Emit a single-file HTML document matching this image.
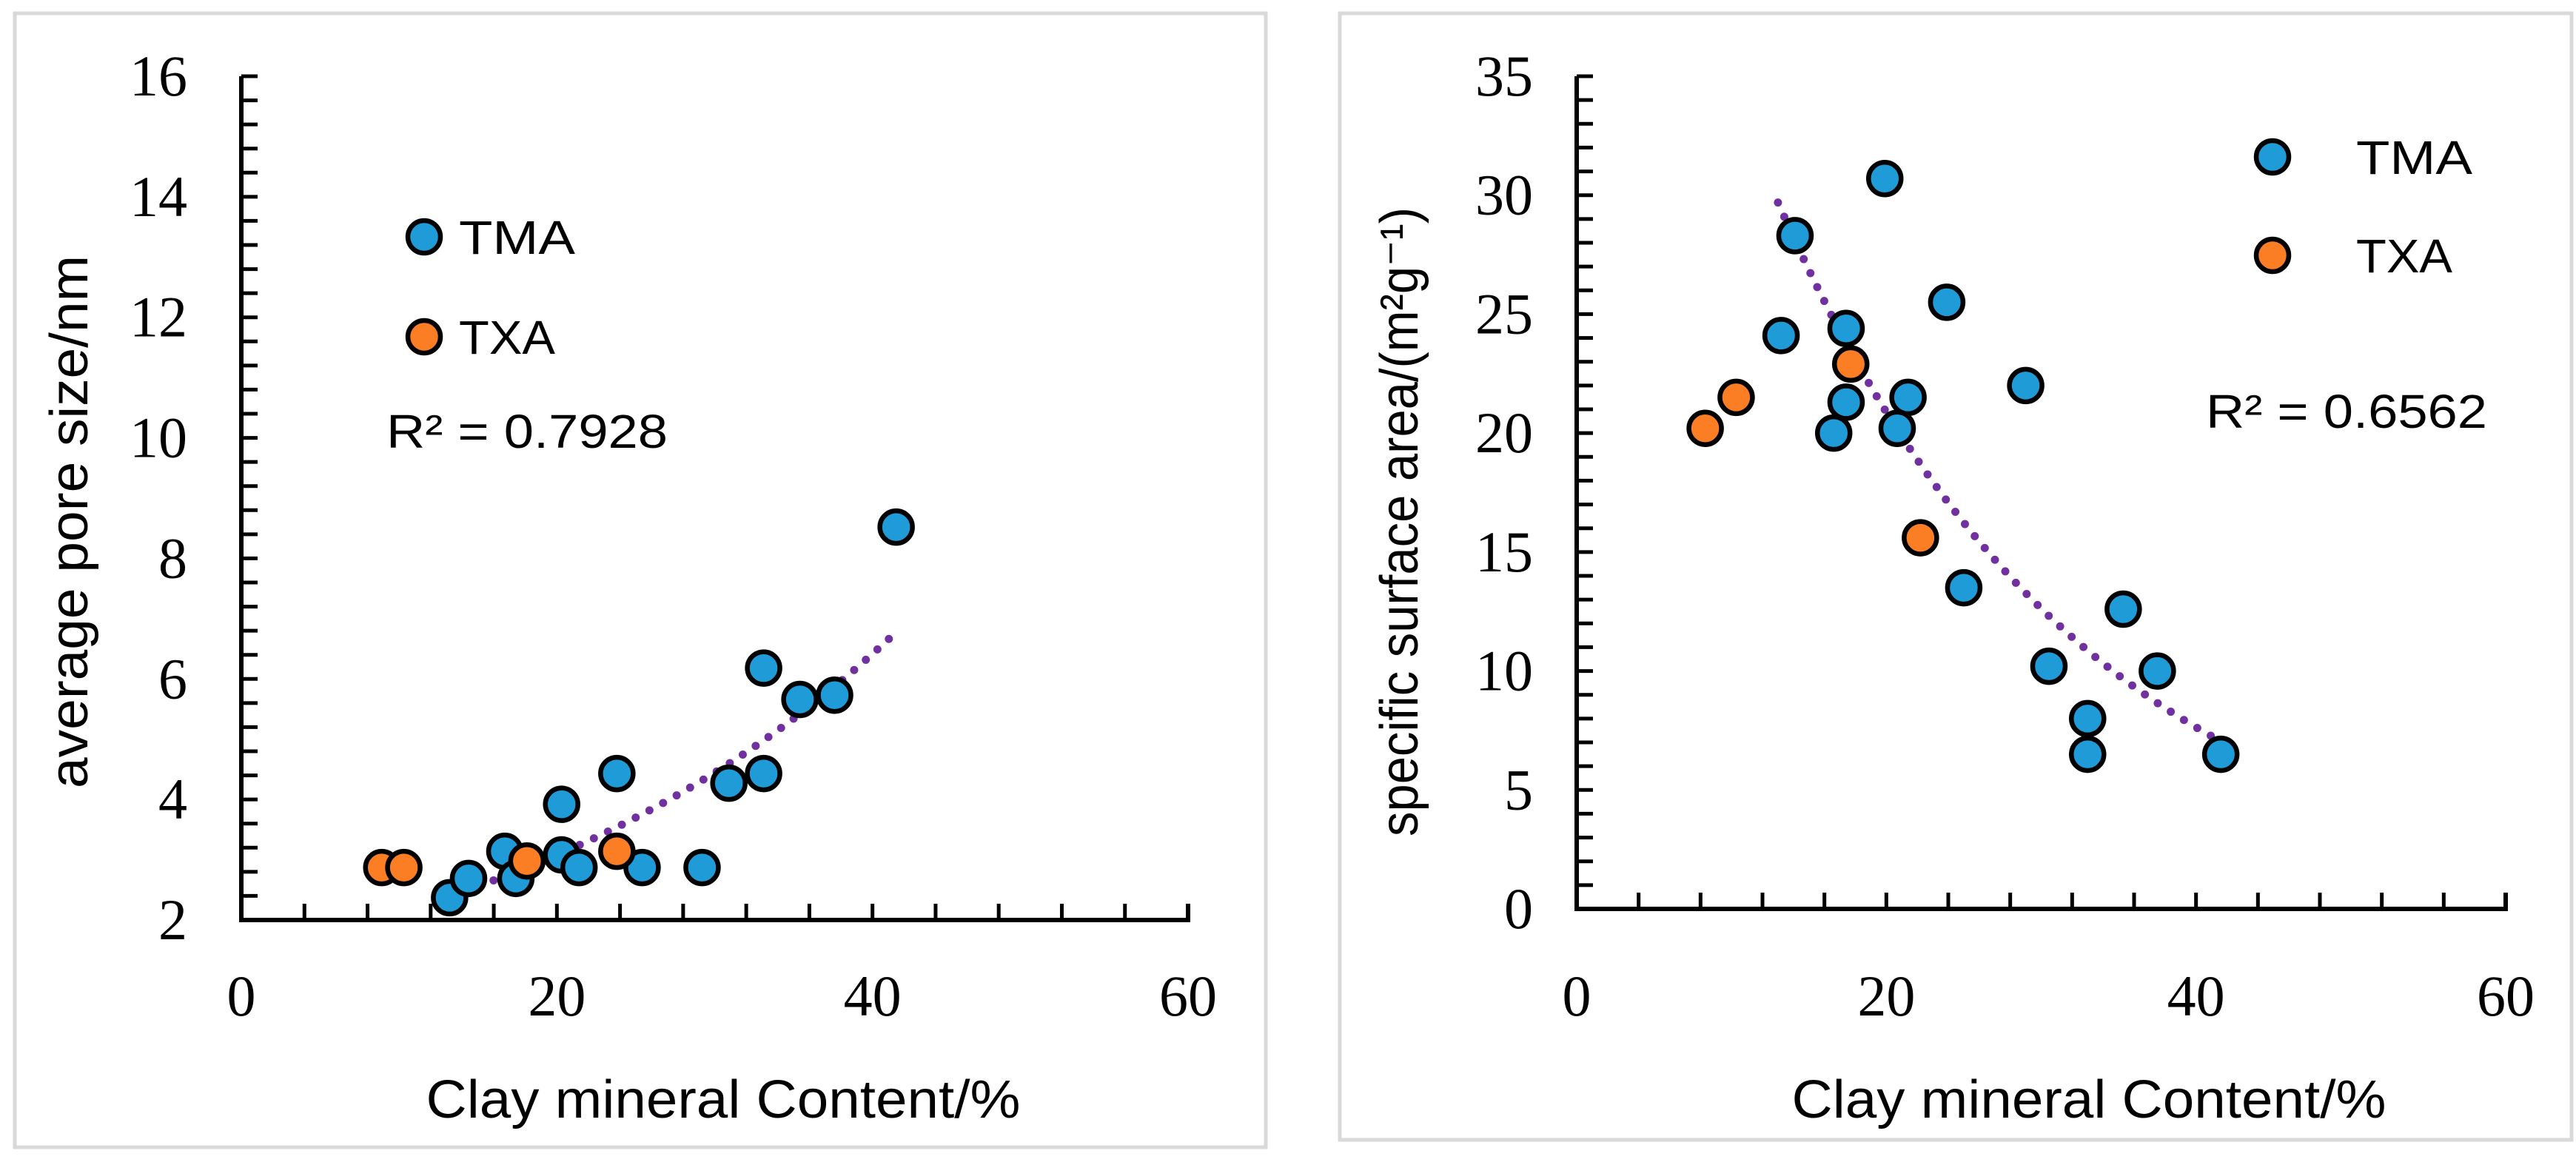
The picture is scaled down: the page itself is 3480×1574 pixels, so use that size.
<!DOCTYPE html>
<html><head><meta charset="utf-8"><style>
html,body{margin:0;padding:0;background:#fff}
svg{display:block}
.tick{font-family:"Liberation Serif",serif;font-size:78px;fill:#000}
.sans{font-family:"Liberation Sans",sans-serif;fill:#000}
</style></head><body>
<svg id="chart" width="3480" height="1574" viewBox="0 0 3480 1574" xmlns="http://www.w3.org/2000/svg">
<rect x="20" y="18" width="1690" height="1532" fill="#fff" stroke="#d9d9d9" stroke-width="5"/>
<rect x="1810" y="18" width="1664" height="1522" fill="#fff" stroke="#d9d9d9" stroke-width="5"/>
<g id="left"></g>
<g id="right"></g>
</svg>
<script>
// Left chart data
const leftTmaX = [13.2,14.4,16.7,17.4,20.3,20.3,21.4,23.8,25.4,29.2,30.9,33.1,33.1,35.4,37.6,41.5];
const leftTmaY = [2.37,2.69,3.14,2.69,3.92,3.08,2.87,4.43,2.87,2.87,4.27,6.18,4.43,5.66,5.73,8.52];
const leftTxaX = [8.9,10.3,18.1,23.8];
const leftTxaY = [2.87,2.87,2.98,3.14];
const leftTrendAB = [1.478,0.0367];
const leftTrendRange = [13.2,41.5];
const leftYTicks = [2,4,6,8,10,12,14,16];
const leftXTicks = [0,20,40,60];
// Right chart data
const rightTmaX = [13.2,14.1,16.6,17.4,17.4,19.9,20.7,21.4,23.9,25.0,29.0,30.5,33.0,33.0,35.3,37.5,41.6];
const rightTmaY = [24.1,28.3,20.0,24.4,21.3,30.7,20.2,21.5,25.5,13.5,22.0,10.2,8.0,6.5,12.6,10.0,6.5];
const rightTxaX = [8.3,10.3,17.7,22.2];
const rightTxaY = [20.2,21.5,22.9,15.6];
const rightTrendAB = [57.1,-0.0503];
const rightTrendRange = [13.0,41.3];
const rightYTicks = [0,5,10,15,20,25,30,35];
const rightXTicks = [0,20,40,60];

const NS='http://www.w3.org/2000/svg';
function mk(parent,tag,attrs,text){const e=document.createElementNS(NS,tag);for(const k in attrs)e.setAttribute(k,attrs[k]);if(text!==undefined)e.textContent=text;parent.appendChild(e);return e;}

function drawChart(g,cfg){
  const sx=v=>cfg.x0+(v-cfg.xmin)/(cfg.xmax-cfg.xmin)*(cfg.x1-cfg.x0);
  const sy=v=>cfg.y0-(v-cfg.ymin)/(cfg.ymax-cfg.ymin)*(cfg.y0-cfg.y1);
  for(let v=cfg.xmin+cfg.xMinor; v<=cfg.xmax+1e-9; v+=cfg.xMinor){
    const t=mk(g,'line',{x1:sx(v),x2:sx(v),y1:cfg.y0,y2:cfg.y0-22,stroke:'#000','stroke-width':5});
    
    
  }
  for(let v=cfg.ymin+cfg.yMinor; v<=cfg.ymax+1e-9; v+=cfg.yMinor){
    const t=mk(g,'line',{x1:cfg.x0,x2:cfg.x0+22,y1:sy(v),y2:sy(v),stroke:'#000','stroke-width':5});
    
    
  }
  const ax=mk(g,'path',{d:`M${cfg.x0},${cfg.y1} L${cfg.x0},${cfg.y0} L${cfg.x1},${cfg.y0} L${cfg.x1},${cfg.y0-22}`,fill:'none',stroke:'#000','stroke-width':6});
  
  
  cfg.yTicks.forEach(v=>{
    const t=mk(g,'text',{x:cfg.yLabelX,y:sy(v)+26,'text-anchor':'end',class:'tick'},String(v));
    
    
  });
  cfg.xTicks.forEach(v=>{
    const t=mk(g,'text',{x:sx(v),y:1372,'text-anchor':'middle',class:'tick'},String(v));
    
    
  });
  const [a,b]=cfg.ab; let d='';
  for(let i=0;i<=60;i++){const x=cfg.tr[0]+(cfg.tr[1]-cfg.tr[0])*i/60;const y=a*Math.exp(b*x);d+=(i?'L':'M')+sx(x).toFixed(1)+','+sy(y).toFixed(1);}
  const tl=mk(g,'path',{d:d,fill:'none',stroke:'#7030a0','stroke-width':11,'stroke-linecap':'round','stroke-dasharray':'0 21'});
  
  
  function pts(xs,ys,color,name){
    xs.forEach((x,i)=>{
      const c=mk(g,'circle',{cx:sx(x),cy:sy(ys[i]),r:22,fill:color,stroke:'#000','stroke-width':6.5});
      
      
    });
  }
  pts(cfg.tmaX,cfg.tmaY,'#1f9bd7','tma-point');
  pts(cfg.txaX,cfg.txaY,'#fb7d24','txa-point');
  let c=mk(g,'circle',{cx:cfg.leg[0],cy:cfg.leg[1],r:22,fill:'#1f9bd7',stroke:'#000','stroke-width':6.5});
  
  
  c=mk(g,'circle',{cx:cfg.leg[0],cy:cfg.leg[1]+cfg.leg[3],r:22,fill:'#fb7d24',stroke:'#000','stroke-width':6.5});
  
  
  let t=mk(g,'text',{x:cfg.leg[2],y:cfg.leg[1]+23,class:'sans','font-size':64,textLength:157,lengthAdjust:'spacingAndGlyphs'},'TMA');
  
  
  t=mk(g,'text',{x:cfg.leg[2],y:cfg.leg[1]+cfg.leg[3]+23,class:'sans','font-size':64,textLength:130,lengthAdjust:'spacingAndGlyphs'},'TXA');
  
  
  t=mk(g,'text',{x:cfg.r2[0],y:cfg.r2[1],class:'sans','font-size':64,textLength:380,lengthAdjust:'spacingAndGlyphs'},cfg.r2[2]);
  
  
  t=mk(g,'text',{x:cfg.xt[0],y:1510,'text-anchor':'middle',class:'sans','font-size':72,textLength:cfg.xt[1],lengthAdjust:'spacingAndGlyphs'},'Clay mineral Content/%');
  
  
  t=mk(g,'text',{x:0,y:0,'text-anchor':'middle',class:'sans','font-size':72,textLength:cfg.yt[3],lengthAdjust:'spacingAndGlyphs',transform:`translate(${cfg.yt[0]},${cfg.yt[1]}) rotate(-90)`},cfg.yt[2]);
  
  
}

drawChart(document.getElementById('left'),{
  x0:326,x1:1605,y0:1243,y1:103,xmin:0,xmax:60,ymin:2,ymax:16,xMinor:4,yMinor:0.4,
  yTicks:leftYTicks,xTicks:leftXTicks,yLabelX:253,
  tmaX:leftTmaX,tmaY:leftTmaY,txaX:leftTxaX,txaY:leftTxaY,ab:leftTrendAB,tr:leftTrendRange,
  leg:[573,320,620,135],r2:[522,605,'R² = 0.7928'],xt:[977,803],yt:[118,705,'average pore size/nm',720]
});
drawChart(document.getElementById('right'),{
  x0:2130,x1:3385,y0:1228,y1:103,xmin:0,xmax:60,ymin:0,ymax:35,xMinor:4,yMinor:1,
  yTicks:rightYTicks,xTicks:rightXTicks,yLabelX:2071,
  tmaX:rightTmaX,tmaY:rightTmaY,txaX:rightTxaX,txaY:rightTxaY,ab:rightTrendAB,tr:rightTrendRange,
  leg:[3070,212,3183,133],r2:[2980,578,'R² = 0.6562'],xt:[2822,803],yt:[1915,705,'specific surface area/(m²g⁻¹)',850]
});
</script>
</body></html>
